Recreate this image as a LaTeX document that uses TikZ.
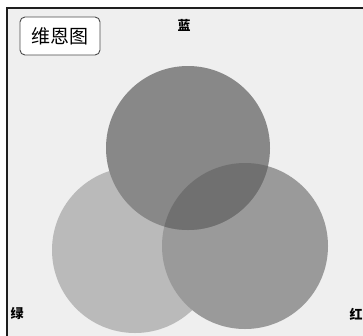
\documentclass[tikz,border=0pt]{standalone}
\usepackage{fontspec}
\newfontfamily\cjk{Noto Sans CJK SC}
\definecolor{bgc}{RGB}{239,239,239}
\definecolor{leftc}{RGB}{186,186,186}
\definecolor{topc}{RGB}{136,136,136}
\definecolor{rightc}{RGB}{154,154,154}
\definecolor{overc}{RGB}{112,112,112}
\definecolor{framec}{RGB}{30,30,30}
\tikzset{
  setlabel/.style={font=\cjk\fontsize{13}{13}\selectfont\bfseries, text=black, inner sep=0pt},
  titlebox/.style={draw=framec!80, line width=0.9pt, rounded corners=5pt, fill=white,
    minimum width=80pt, minimum height=38pt, font=\cjk\fontsize{19}{19}\selectfont, inner sep=0pt}
}
\begin{document}
\begin{tikzpicture}[x=1pt,y=-1pt]
\useasboundingbox (0,0) rectangle (363,335);
\clip (0,0) rectangle (363,335);
\fill[white] (0,0) rectangle (363,335);
\draw[framec, line width=1.5pt, fill=bgc] (7,8) rectangle (372,345);
\fill[leftc] (135,250) circle (83);
\fill[rightc] (245,246) circle (83);
\fill[topc] (188,148) circle (82);
\begin{scope}
  \clip (245,246) circle (83);
  \fill[overc] (188,148) circle (82);
\end{scope}
\node[titlebox] (title) at (60,36) {维恩图};
\node[setlabel] (blue) at (184,25) {蓝};
\node[setlabel] (green) at (17,314) {绿};
\node[setlabel] (red) at (356,314) {红};
\end{tikzpicture}
\end{document}
